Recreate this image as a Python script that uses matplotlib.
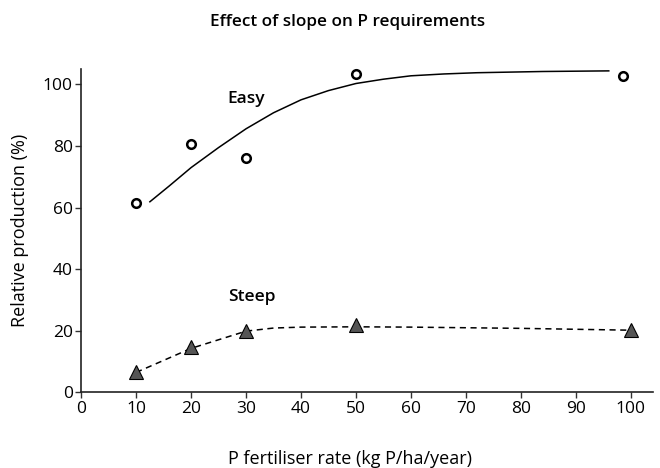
import numpy as np
import matplotlib.pyplot as plt

plt.rcParams['font.family'] = ['Open Sans', 'DejaVu Sans']

# Observed points
easy_x = [10, 20, 30, 50, 98.5]
easy_y = [61.6, 80.7, 76.2, 103.5, 102.6]
steep_x = [10, 20, 30, 50, 100]
steep_y = [6.7, 14.6, 20.0, 21.9, 20.3]

# Fitted curves
easy_fit_x = [12.5, 16, 20, 25, 30, 35, 40, 45, 50, 55, 60, 66, 72, 84, 96]
easy_fit_y = [61.9, 67.0, 73.0, 79.5, 85.6, 90.8, 95.0, 98.0, 100.3, 101.7, 102.8, 103.4, 103.8, 104.2, 104.4]
steep_fit_x = [10, 20, 30, 35, 40, 50, 60, 80, 100]
steep_fit_y = [6.5, 14.3, 19.9, 20.9, 21.2, 21.3, 21.2, 20.8, 20.2]

fig = plt.figure(figsize=(6.6, 4.68), dpi=100)
ax = fig.add_axes([0.123, 0.1615, 0.866, 0.691])

ax.plot(easy_fit_x, easy_fit_y, color='black', lw=1.1)
ax.plot(steep_fit_x, steep_fit_y, color='black', lw=1.1, ls=(0, (4, 3)))
ax.plot(easy_x, easy_y, 'o', ms=6.2, mfc='white', mec='black', mew=1.8, clip_on=False)
ax.plot(steep_x, steep_y, '^', ms=10, mfc='#555555', mec='black', mew=0.8, clip_on=False)

ax.text(30, 95.3, 'Easy', ha='center', va='center', fontsize=12.5, fontweight='semibold')
ax.text(31, 30.9, 'Steep', ha='center', va='center', fontsize=12.5, fontweight='semibold')

ax.set_xlim(0, 104)
ax.set_ylim(0, 105)
ax.set_xticks(np.arange(0, 101, 10))
ax.set_yticks(np.arange(0, 101, 20))
ax.tick_params(labelsize=12.5, length=4, width=1, color='#333333', pad=2)
for s in ['top', 'right']:
    ax.spines[s].set_visible(False)
for s in ['left', 'bottom']:
    ax.spines[s].set_linewidth(1.2)
    ax.spines[s].set_color('#222222')

fig.text(0.527, 0.953, 'Effect of slope on P requirements', ha='center', va='center',
         fontsize=12.3, fontweight='semibold')
fig.text(0.530, 0.019, 'P fertiliser rate (kg P/ha/year)', ha='center', va='center', fontsize=13)
fig.text(0.030, 0.5075, 'Relative production (%)', ha='center', va='center', rotation=90, fontsize=13)

fig.savefig('out.png', dpi=100)
